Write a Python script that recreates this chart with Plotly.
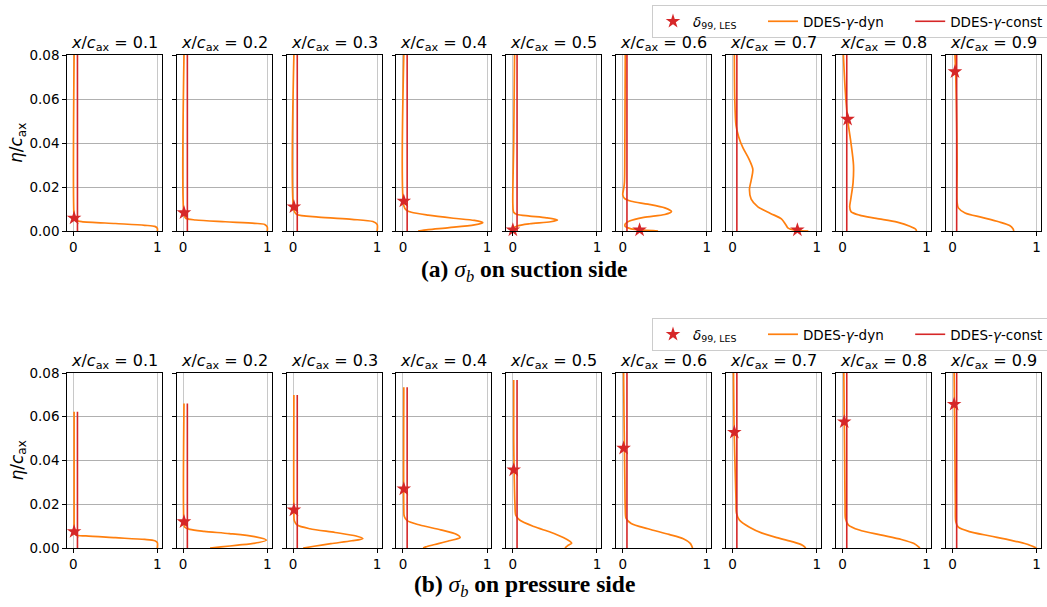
import plotly.graph_objects as go

# ---------------- data ----------------
stations = ["0.1", "0.2", "0.3", "0.4", "0.5", "0.6", "0.7", "0.8", "0.9"]

# DDES-gamma-dyn profiles, suction side: (sigma_b, eta/c_ax) pairs per station
suction_dyn = [
    [(0.01, 0.08), (0.01, 0.0065), (0.02, 0.0049), (0.1, 0.0043), (0.5, 0.0034), (0.85, 0.0026), (0.97, 0.0021), (1.0, 0.0012), (1.0, 0.0)],
    [(0.01, 0.08), (0.01, 0.0075), (0.03, 0.0058), (0.15, 0.005), (0.5, 0.0042), (0.85, 0.0035), (0.97, 0.003), (1.0, 0.0018), (1.0, 0.0)],
    [(0.01, 0.08), (0.01, 0.0095), (0.04, 0.0076), (0.3, 0.0063), (0.7, 0.0053), (0.95, 0.0043), (1.0, 0.003), (1.0, 0.0)],
    [(0.01, 0.08), (0.01, 0.0115), (0.04, 0.0095), (0.1, 0.0085), (0.3, 0.0072), (0.6, 0.0058), (0.85, 0.0048), (0.95, 0.0038), (0.85, 0.0028), (0.55, 0.0015), (0.3, 0.0006), (0.18, 0.0)],
    [(0.02, 0.08), (0.01, 0.04), (0.0, 0.012), (0.01, 0.0085), (0.05, 0.0075), (0.2, 0.0068), (0.4, 0.006), (0.53, 0.005), (0.45, 0.0042), (0.2, 0.0033), (0.05, 0.0023), (0.0, 0.0012), (0.0, 0.0)],
    [(0.03, 0.08), (0.025, 0.04), (0.02, 0.022), (0.01, 0.019), (0.0, 0.0165), (0.02, 0.0148), (0.1, 0.0135), (0.3, 0.0122), (0.5, 0.0105), (0.58, 0.0088), (0.5, 0.0075), (0.25, 0.0062), (0.08, 0.0045), (0.03, 0.0032), (0.03, 0.002), (0.1, 0.001), (0.25, 0.0004), (0.42, 0.0)],
    [(0.02, 0.08), (0.025, 0.06), (0.04, 0.048), (0.07, 0.043), (0.12, 0.038), (0.19, 0.033), (0.24, 0.028), (0.22, 0.023), (0.2, 0.019), (0.22, 0.0145), (0.3, 0.011), (0.45, 0.008), (0.58, 0.0055), (0.63, 0.003), (0.66, 0.0013), (0.75, 0.0003), (0.9, 0.0)],
    [(0.01, 0.08), (0.03, 0.065), (0.05, 0.055), (0.07, 0.048), (0.1, 0.04), (0.13, 0.03), (0.125, 0.022), (0.1, 0.015), (0.085, 0.011), (0.1, 0.0088), (0.2, 0.0072), (0.4, 0.0057), (0.65, 0.004), (0.8, 0.0022), (0.87, 0.0008), (0.88, 0.0)],
    [(0.03, 0.08), (0.04, 0.07), (0.05, 0.05), (0.055, 0.03), (0.055, 0.013), (0.07, 0.0105), (0.15, 0.0082), (0.35, 0.0062), (0.55, 0.0042), (0.68, 0.0025), (0.72, 0.001), (0.73, 0.0)],
]

# DDES-gamma-dyn profiles, pressure side
pressure_dyn = [
    [(0.01, 0.0623), (0.01, 0.01), (0.01, 0.0072), (0.03, 0.006), (0.15, 0.0055), (0.5, 0.0047), (0.85, 0.0039), (0.97, 0.0033), (1.0, 0.0025), (1.0, 0.0)],
    [(0.01, 0.0661), (0.01, 0.011), (0.02, 0.0095), (0.08, 0.0085), (0.25, 0.0076), (0.55, 0.0066), (0.85, 0.0052), (0.99, 0.0036), (0.9, 0.0025), (0.65, 0.0013), (0.45, 0.0005), (0.32, 0.0)],
    [(0.01, 0.070), (0.01, 0.016), (0.015, 0.0125), (0.05, 0.0105), (0.2, 0.0088), (0.5, 0.0071), (0.75, 0.0055), (0.83, 0.0043), (0.7, 0.0033), (0.45, 0.002), (0.25, 0.0008), (0.12, 0.0)],
    [(0.01, 0.0735), (0.01, 0.018), (0.015, 0.0145), (0.05, 0.0125), (0.2, 0.0105), (0.45, 0.0083), (0.64, 0.0062), (0.68, 0.0048), (0.55, 0.0033), (0.38, 0.0016), (0.27, 0.0005), (0.24, 0.0)],
    [(0.01, 0.0768), (0.01, 0.05), (0.015, 0.035), (0.025, 0.02), (0.035, 0.015), (0.08, 0.0128), (0.25, 0.0098), (0.45, 0.0072), (0.6, 0.0048), (0.68, 0.003), (0.7, 0.0022), (0.65, 0.001), (0.62, 0.0)],
    [(0.01, 0.08), (0.015, 0.06), (0.02, 0.045), (0.025, 0.03), (0.03, 0.018), (0.04, 0.0135), (0.1, 0.0112), (0.3, 0.0088), (0.55, 0.0062), (0.72, 0.0042), (0.8, 0.0022), (0.82, 0.001), (0.83, 0.0)],
    [(0.01, 0.08), (0.015, 0.06), (0.02, 0.05), (0.03, 0.035), (0.04, 0.022), (0.045, 0.016), (0.08, 0.0128), (0.2, 0.0095), (0.35, 0.0068), (0.55, 0.0045), (0.72, 0.0028), (0.83, 0.0013), (0.87, 0.0)],
    [(0.015, 0.08), (0.02, 0.06), (0.025, 0.04), (0.03, 0.02), (0.035, 0.0135), (0.07, 0.0105), (0.2, 0.0082), (0.45, 0.006), (0.7, 0.0039), (0.85, 0.002), (0.92, 0.0)],
    [(0.02, 0.08), (0.025, 0.06), (0.03, 0.04), (0.035, 0.02), (0.04, 0.012), (0.07, 0.0095), (0.2, 0.0075), (0.45, 0.0055), (0.7, 0.0035), (0.88, 0.0018), (1.0, 0.0)],
]

# DDES-gamma-const (constant sigma_b) and its top extent per station
const_sigma = [0.05, 0.05, 0.05, 0.05, 0.05, 0.05, 0.05, 0.05, 0.05]
suction_const_top = [0.08, 0.08, 0.08, 0.08, 0.08, 0.08, 0.08, 0.08, 0.08]
pressure_const_top = [0.0623, 0.0661, 0.070, 0.0735, 0.0768, 0.08, 0.08, 0.08, 0.08]

# delta_99 from LES (star markers)
suction_star_sigma = [0.01, 0.01, 0.01, 0.01, 0.0, 0.2, 0.77, 0.06, 0.03]
suction_star_eta = [0.0059, 0.0083, 0.011, 0.0136, 0.0005, 0.0005, 0.0005, 0.0508, 0.0724]
pressure_star_sigma = [0.01, 0.01, 0.01, 0.01, 0.01, 0.01, 0.02, 0.02, 0.02]
pressure_star_eta = [0.0075, 0.012, 0.0174, 0.027, 0.0357, 0.0456, 0.0529, 0.0577, 0.0657]

y_ticks = [0.0, 0.02, 0.04, 0.06, 0.08]
x_ticks = [0, 1]

# ---------------- styling ----------------
W, H = 1047, 607
ORANGE = "#ff7f0e"
RED = "#d62728"
FONT = "DejaVu Sans"
NB = "&nbsp;"

panel_left0 = 66.7
panel_step = 109.9
panel_w = 95.0
rows_px = [(55.0, 231.0), (373.0, 548.0)]

fig = go.Figure()
layout = dict()


def add_panel(row, col, dyn, ctop, star_s, star_e):
    idx = row * 9 + col + 1
    xa = "x" if idx == 1 else f"x{idx}"
    ya = "y" if idx == 1 else f"y{idx}"
    lg = "legend" if row == 0 else "legend2"
    show = col == 0
    s = [p[0] for p in dyn]
    e = [p[1] for p in dyn]
    fig.add_trace(go.Scatter(x=s, y=e, mode="lines", line=dict(color=ORANGE, width=1.7, shape="spline", smoothing=0.8),
                             name="DDES-<i>γ</i>-dyn" + NB * 5, xaxis=xa, yaxis=ya, legend=lg, showlegend=show,
                             legendrank=2, legendgroup=f"dyn{row}", hoverinfo="skip"))
    fig.add_trace(go.Scatter(x=[const_sigma[col], const_sigma[col]], y=[0.0, ctop], mode="lines",
                             line=dict(color=RED, width=1.6), name="DDES-<i>γ</i>-const",
                             xaxis=xa, yaxis=ya, legend=lg, showlegend=show, legendrank=3,
                             legendgroup=f"const{row}", hoverinfo="skip"))
    fig.add_trace(go.Scatter(x=[star_s], y=[star_e], mode="markers",
                             marker=dict(symbol="star", size=11, color=RED, line=dict(width=0)),
                             name="<i>δ</i><sub>99, LES</sub>" + NB * 5, xaxis=xa, yaxis=ya, legend=lg,
                             showlegend=show, legendrank=1, legendgroup=f"star{row}",
                             cliponaxis=False, hoverinfo="skip"))

    left = panel_left0 + col * panel_step
    top, bot = rows_px[row]
    xkey = "xaxis" if idx == 1 else f"xaxis{idx}"
    ykey = "yaxis" if idx == 1 else f"yaxis{idx}"
    layout[xkey] = dict(domain=[left / W, (left + panel_w) / W], anchor=ya, range=[-0.078, 1.052],
                        tickvals=x_ticks, ticktext=["0", "1"], ticks="outside", ticklen=3.5, tickwidth=1,
                        tickcolor="black", showline=True, mirror=True, linecolor="black", linewidth=1,
                        showgrid=True, gridcolor="#c8c8c8", gridwidth=1.2, zeroline=False,
                        tickfont=dict(family=FONT, size=13.5, color="black"), fixedrange=True)
    layout[ykey] = dict(domain=[1 - bot / H, 1 - top / H], anchor=xa, range=[0, 0.08],
                        tickvals=y_ticks, ticktext=[f"{v:.2f}" for v in y_ticks] if col == 0 else ["", "", "", "", ""],
                        ticks="outside", ticklen=3.5, tickwidth=1, tickcolor="black",
                        showline=True, mirror=True, linecolor="black", linewidth=1,
                        showgrid=True, gridcolor="#b0b0b0", gridwidth=1, zeroline=False,
                        tickfont=dict(family=FONT, size=13.5, color="black"), fixedrange=True)


for c in range(9):
    add_panel(0, c, suction_dyn[c], suction_const_top[c], suction_star_sigma[c], suction_star_eta[c])
for c in range(9):
    add_panel(1, c, pressure_dyn[c], pressure_const_top[c], pressure_star_sigma[c], pressure_star_eta[c])

annotations = []
title_y_px = [43, 361]
for r in range(2):
    for c in range(9):
        cx = panel_left0 + c * panel_step + panel_w / 2
        annotations.append(dict(x=cx / W, y=1 - title_y_px[r] / H, xref="paper", yref="paper",
                                text=f"<i>x</i>/<i>c</i><sub>ax</sub> = {stations[c]}", showarrow=False,
                                xanchor="center", yanchor="middle", font=dict(family=FONT, size=16, color="black")))
    yc = (rows_px[r][0] + rows_px[r][1]) / 2
    annotations.append(dict(x=18 / W, y=1 - yc / H, xref="paper", yref="paper",
                            text="<i>η</i>/<i>c</i><sub>ax</sub>", textangle=-90, showarrow=False,
                            xanchor="center", yanchor="middle", font=dict(family=FONT, size=17, color="black")))

annotations.append(dict(x=524 / W, y=1 - 271 / H, xref="paper", yref="paper", showarrow=False,
                        text="<b>(a)</b> <i>σ<sub>b</sub></i> <b>on suction side</b>",
                        xanchor="center", yanchor="middle", font=dict(family="Liberation Serif", size=23.5, color="black")))
annotations.append(dict(x=524 / W, y=1 - 586 / H, xref="paper", yref="paper", showarrow=False,
                        text="<b>(b)</b> <i>σ<sub>b</sub></i> <b>on pressure side</b>",
                        xanchor="center", yanchor="middle", font=dict(family="Liberation Serif", size=23.5, color="black")))

legend_style = dict(orientation="h", xanchor="left", yanchor="top", bgcolor="white",
                    bordercolor="#cccccc", borderwidth=1, font=dict(family=FONT, size=13.5, color="black"),
                    traceorder="normal")

fig.update_layout(
    width=W, height=H, margin=dict(l=0, r=0, t=0, b=0, pad=0, autoexpand=False),
    paper_bgcolor="white", plot_bgcolor="white",
    showlegend=True,
    legend=dict(x=652 / W, y=1 - 5 / H, **legend_style),
    legend2=dict(x=652 / W, y=1 - 318 / H, **legend_style),
    annotations=annotations,
    **layout,
)

fig.write_html("out.html", config={"displayModeBar": False},
               post_script="document.body.style.margin='0px';document.body.style.overflow='hidden';")
